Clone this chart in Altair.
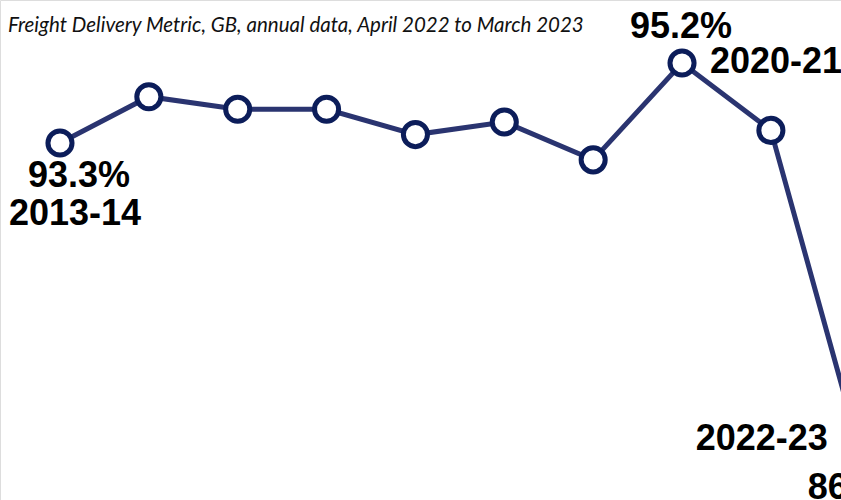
import altair as alt
import pandas as pd

periods = ["2013-14", "2014-15", "2015-16", "2016-17", "2017-18",
           "2018-19", "2019-20", "2020-21", "2021-22", "2022-23"]
values = [93.3, 94.4, 94.1, 94.1, 93.5, 93.8, 92.9, 95.2, 93.6, 86.0]
title_text = "Freight Delivery Metric, GB, annual data, April 2022 to March 2023"

df = pd.DataFrame({"period": periods, "value": values})
df["idx"] = range(len(df))

x = alt.X("idx:Q", axis=None,
          scale=alt.Scale(domain=[-0.675, 8.789], nice=False, zero=False))
y = alt.Y("value:Q", axis=None,
          scale=alt.Scale(domain=[84.82, 96.697], nice=False, zero=False))

base = alt.Chart(df).encode(x=x, y=y)

line = base.mark_line(color="#2a3470", strokeWidth=5)
points = base.mark_point(shape="circle", size=580, filled=True, fill="white",
                         stroke="#0c1d5a", strokeWidth=5, opacity=1)

lab = base.transform_calculate(
    vlab="format(datum.value, '.1f') + '%'"
)
font = dict(font="Liberation Sans", fontWeight="bold", fontSize=36, color="black")

t1v = lab.transform_filter(alt.datum.period == periods[0]).mark_text(
    align="center", baseline="alphabetic", dx=19, dy=44, **font).encode(text="vlab:N")
t1p = lab.transform_filter(alt.datum.period == periods[0]).mark_text(
    align="center", baseline="alphabetic", dx=15, dy=82, **font).encode(text="period:N")
t8v = lab.transform_filter(alt.datum.period == periods[7]).mark_text(
    align="center", baseline="alphabetic", dx=-1, dy=-25, **font).encode(text="vlab:N")
t8p = lab.transform_filter(alt.datum.period == periods[7]).mark_text(
    align="left", baseline="alphabetic", dx=28, dy=10, **font).encode(text="period:N")
t10p = lab.transform_filter(alt.datum.period == periods[9]).mark_text(
    align="right", baseline="alphabetic", dx=-32, dy=0, **font).encode(text="period:N")
t10v = lab.transform_filter(alt.datum.period == periods[9]).mark_text(
    align="center", baseline="alphabetic", dx=-1, dy=49, **font).encode(text="vlab:N")

chart = alt.layer(line, points, t1v, t1p, t8v, t8p, t10p, t10v).properties(
    width=841, height=500,
    title=alt.TitleParams(title_text, anchor="start", frame="group", orient="top",
                          font="Lato", fontStyle="italic", fontWeight="normal",
                          fontSize=20.5, color="#111111", baseline="alphabetic",
                          dx=8, dy=52, offset=0),
    autosize=alt.AutoSizeParams(type="none"),
    padding=0,
).configure_view(stroke=None).configure(background="white")

chart.save("out.html", embed_options={"renderer": "svg", "actions": False})
